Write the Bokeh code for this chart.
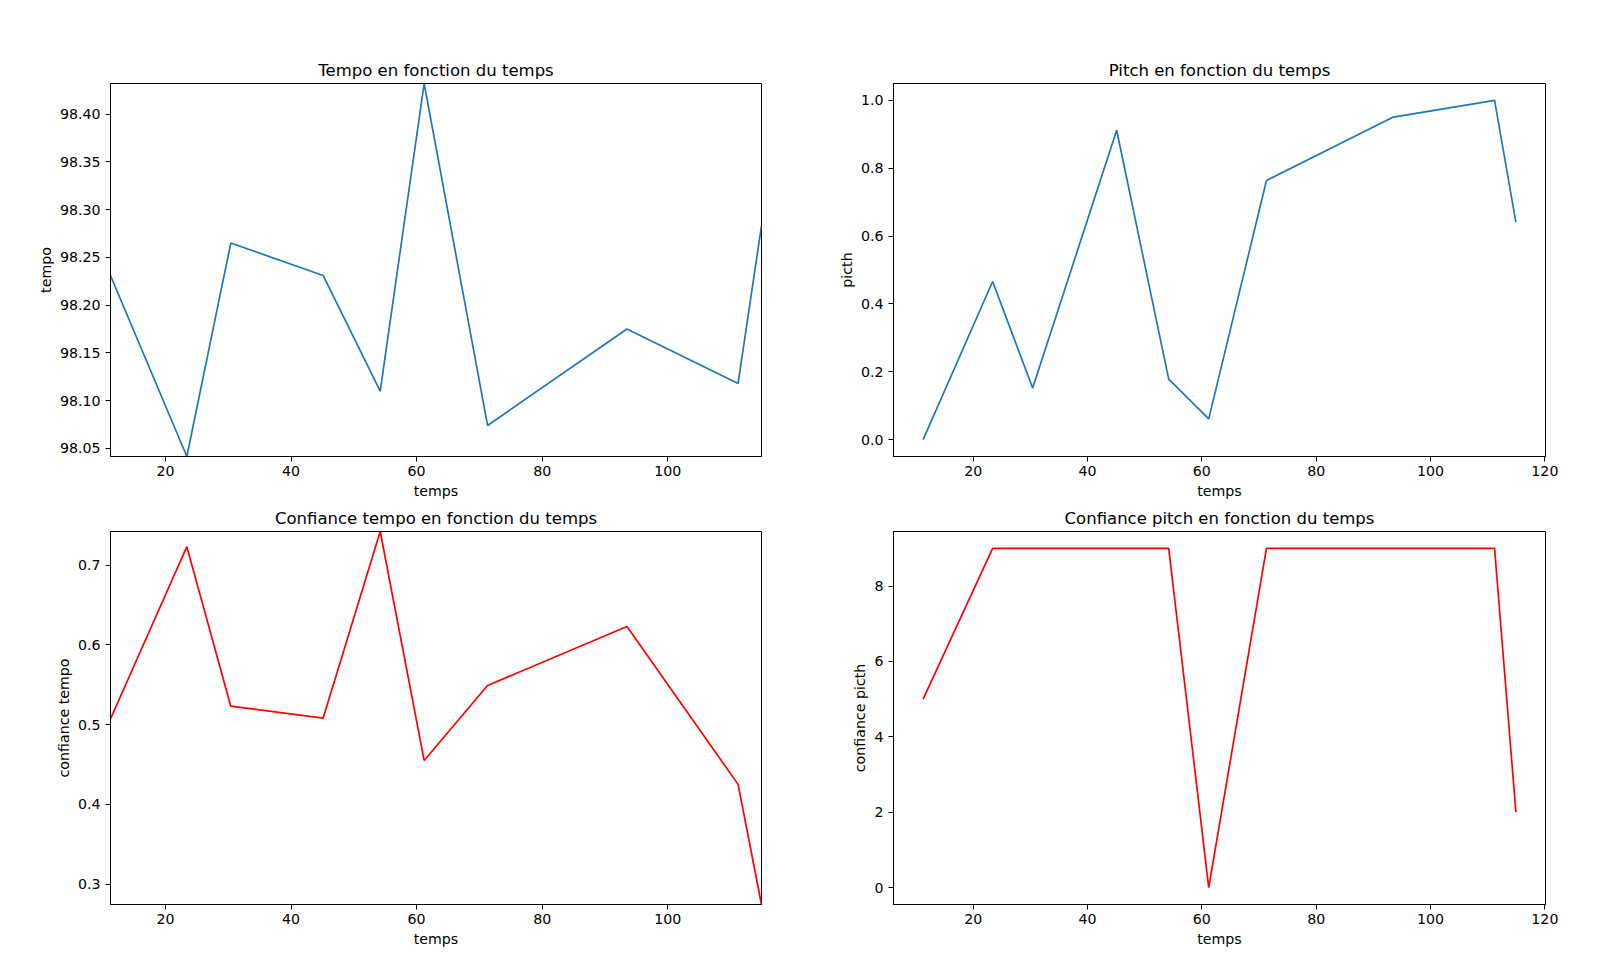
from bokeh.plotting import figure
from bokeh.layouts import column, row
from bokeh.models import Range1d, FixedTicker, NumeralTickFormatter
from bokeh.embed import file_html
from bokeh.resources import INLINE

temps = [11.24, 23.4, 30.4, 45.1, 54.2, 61.2, 71.3, 93.5, 111.2, 114.93]
tempo = [98.231, 98.0415, 98.265, 98.231, 98.110, 98.432, 98.074, 98.175, 98.118, 98.283]
pitch = [0.0, 0.466, 0.152, 0.912, 0.178, 0.061, 0.764, 0.951, 1.0, 0.641]
conf_tempo = [0.507, 0.723, 0.523, 0.508, 0.742, 0.455, 0.549, 0.623, 0.425, 0.2744]
conf_pitch = [5, 9, 9, 9, 9, 0, 9, 9, 9, 2]

FONT = "DejaVu Sans"
BLUE = "#1f77b4"


def make(title, ylabel, y, color, xr, yr, yticks, yfmt, xticks,
         width, height, bl, br, bt, bb):
    p = figure(width=width, height=height, output_backend="svg",
               toolbar_location=None, x_range=Range1d(*xr), y_range=Range1d(*yr),
               min_border_left=bl, min_border_right=br,
               min_border_top=bt, min_border_bottom=bb, title=title)
    p.line(temps, y, line_color=color, line_width=1.7)
    p.title.align = "center"
    p.title.text_font = FONT
    p.title.text_font_style = "normal"
    p.title.text_font_size = "16.5px"
    p.title.text_color = "black"
    p.title.standoff = 7
    p.xgrid.visible = False
    p.ygrid.visible = False
    p.outline_line_color = "black"
    p.outline_line_alpha = 1
    p.outline_line_width = 1
    for ax in (p.xaxis[0], p.yaxis[0]):
        ax.axis_line_color = "black"
        ax.major_tick_line_color = "black"
        ax.major_tick_in = 0
        ax.major_tick_out = 5
        ax.minor_tick_line_color = None
        ax.major_label_text_font = FONT
        ax.major_label_text_font_size = "14.2px"
        ax.major_label_text_color = "black"
        ax.major_label_standoff = 5
        ax.axis_label_text_font = FONT
        ax.axis_label_text_font_size = "14.2px"
        ax.axis_label_text_font_style = "normal"
        ax.axis_label_text_color = "black"
    p.xaxis[0].major_label_standoff = 4
    p.xaxis[0].axis_label_standoff = 4
    p.yaxis[0].axis_label_standoff = 3
    p.xaxis[0].axis_label = "temps"
    p.yaxis[0].axis_label = ylabel
    p.xaxis[0].ticker = FixedTicker(ticks=xticks)
    p.yaxis[0].ticker = FixedTicker(ticks=yticks)
    p.yaxis[0].formatter = NumeralTickFormatter(format=yfmt)
    return p


left_x = (11.24, 114.93)
right_x = (6.06, 120.11)

p1 = make("Tempo en fonction du temps", "tempo", tempo, BLUE, left_x, (98.0415, 98.432),
          [98.05, 98.10, 98.15, 98.20, 98.25, 98.30, 98.35, 98.40], "0.00",
          [20, 40, 60, 80, 100], 805, 501, 110, 44, 83, 45)
p2 = make("Pitch en fonction du temps", "picth", pitch, BLUE, right_x, (-0.05, 1.05),
          [0.0, 0.2, 0.4, 0.6, 0.8, 1.0], "0.0",
          [20, 40, 60, 80, 100, 120], 780, 501, 88, 40, 83, 45)
p3 = make("Confiance tempo en fonction du temps", "confiance tempo", conf_tempo, "red", left_x,
          (0.2744, 0.742), [0.3, 0.4, 0.5, 0.6, 0.7], "0.0",
          [20, 40, 60, 80, 100], 805, 450, 110, 44, 30, 47)
p4 = make("Confiance pitch en fonction du temps", "confiance picth", conf_pitch, "red", right_x,
          (-0.45, 9.45), [0, 2, 4, 6, 8], "0",
          [20, 40, 60, 80, 100, 120], 780, 450, 88, 40, 30, 47)

layout = column(row(p1, p2, spacing=0), row(p3, p4, spacing=0), spacing=0)
open("out.html", "w").write(file_html(layout, INLINE))
